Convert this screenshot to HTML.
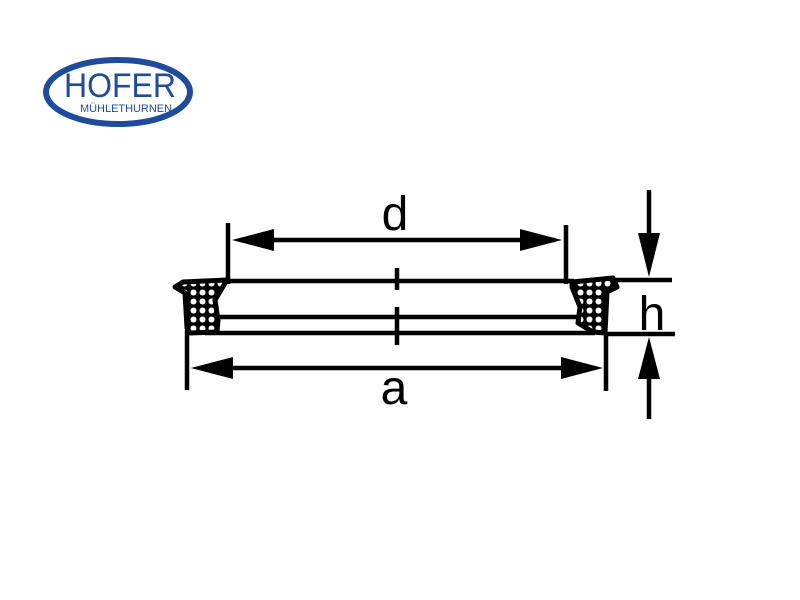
<!DOCTYPE html>
<html><head><style>body{margin:0;background:#fff}svg{display:block}</style></head><body>
<svg width="800" height="600" viewBox="0 0 800 600" xmlns="http://www.w3.org/2000/svg">
<defs>
<pattern id="dots" width="9" height="9" patternUnits="userSpaceOnUse">
<rect width="9" height="9" fill="#000"/>
<circle cx="4.5" cy="4.5" r="3" fill="#fff"/>
</pattern>
</defs>
<ellipse cx="118" cy="92" rx="72" ry="32" fill="none" stroke="#1e4b9b" stroke-width="6"/>
<text x="120" y="97" text-anchor="middle" font-family="Liberation Sans, sans-serif" font-size="34" fill="#1e4b9b" textLength="112" lengthAdjust="spacingAndGlyphs">HOFER</text>
<text x="126" y="112" text-anchor="middle" font-family="Liberation Sans, sans-serif" font-size="11" fill="#1e4b9b" textLength="92" lengthAdjust="spacingAndGlyphs">MÜHLETHURNEN</text>
<g stroke="#000" stroke-width="4.5" fill="none">
<line x1="228" y1="223" x2="228" y2="284"/>
<line x1="566" y1="225" x2="566" y2="284"/>
<line x1="240" y1="240" x2="555" y2="240"/>
<line x1="222" y1="281" x2="574" y2="281"/>
<line x1="612" y1="280" x2="672" y2="280"/>
<line x1="215" y1="317" x2="582" y2="317"/>
<line x1="205" y1="333" x2="595" y2="333"/>
<line x1="605" y1="334" x2="675" y2="334"/>
<line x1="187" y1="330" x2="187" y2="390"/>
<line x1="606" y1="333" x2="606" y2="391"/>
<line x1="200" y1="368" x2="595" y2="368"/>
<line x1="649" y1="190" x2="649" y2="240"/>
<line x1="649" y1="370" x2="649" y2="419"/>
<line x1="397" y1="268" x2="397" y2="290"/>
<line x1="397" y1="307" x2="397" y2="345"/>
</g>
<g fill="#000">
<polygon points="232,240 274,229 274,251"/>
<polygon points="562,240 520,229 520,251"/>
<polygon points="191,368 233,357 233,379"/>
<polygon points="603,368 561,357 561,379"/>
<polygon points="649,277 638,233 660,233"/>
<polygon points="649,337 638,379 660,379"/>
</g>
<polygon points="175,287 183,282 227,280 215,300 218,320 217,332 190,333 187,328 185,293" fill="url(#dots)" stroke="#000" stroke-width="5" stroke-linejoin="round"/>
<polygon points="572,282 613,278 617,287 607,292 605,333 593,332 578,323 580,307 572,287" fill="url(#dots)" stroke="#000" stroke-width="5" stroke-linejoin="round"/>
<g font-family="Liberation Sans, sans-serif" font-size="48" fill="#000" text-anchor="middle">
<text x="395" y="230">d</text>
<text x="394" y="404">a</text>
<text x="652" y="330">h</text>
</g>
</svg>
</body></html>
